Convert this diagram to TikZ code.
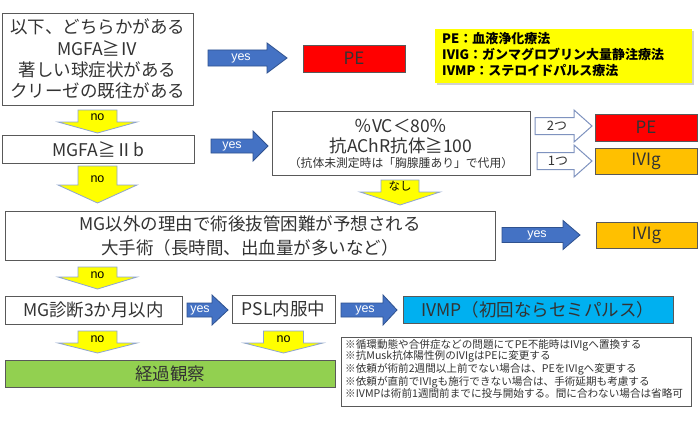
\documentclass[tikz,border=0pt]{standalone}
\usepackage{fontspec}
\setmainfont{Noto Sans CJK JP}
\newfontfamily\latf{Liberation Sans}
\usetikzlibrary{calc}
\definecolor{txt}{HTML}{333333}
\definecolor{boxgray}{HTML}{595959}
\definecolor{pered}{HTML}{FF0000}
\definecolor{ivorange}{HTML}{FFC000}
\definecolor{ivmpcyan}{HTML}{00B0F0}
\definecolor{obsgreen}{HTML}{92D050}
\definecolor{legyellow}{HTML}{FFFF00}
\definecolor{arrblue}{HTML}{4472C4}
\definecolor{arrblueedge}{HTML}{2F528F}
\definecolor{noedge}{HTML}{8FA5D0}
\definecolor{hollowedge}{HTML}{7F93BF}
\newcommand\fs[2]{\fontsize{#1}{#2}\selectfont}
% right-pointing block arrow
\newcommand\blockR[9]{%
  \draw[#1] (#2,#4-#5) -- ({#3-#7},#4-#5) -- ({#3-#7},#4-#6) -- (#3,#4) -- ({#3-#7},#4+#6) -- ({#3-#7},#4+#5) -- (#2,#4+#5) -- cycle;
  \node[#1lab] at (#8,#4) {#9};}
% down-pointing block arrow
\newcommand\blockD[9]{%
  \draw[#1] (#2-#5,#3) -- (#2-#5,{#4-#7}) -- (#2-#6,{#4-#7}) -- (#2,#4) -- (#2+#6,{#4-#7}) -- (#2+#5,{#4-#7}) -- (#2+#5,#3) -- cycle;
  \node[#1lab] at (#2,#8) {#9};}
\begin{document}
\begin{tikzpicture}[x=1pt,y=-1pt,
  box/.style={draw=boxgray, line width=0.9pt, fill=white, inner sep=0pt, align=center, text=txt},
  cbox/.style={draw=boxgray, line width=0.9pt, inner sep=0pt, align=center, text=txt},
  plain/.style={inner sep=0pt, align=center, text=txt},
  yesarr/.style={fill=arrblue, draw=arrblueedge, line width=0.8pt, line join=miter},
  yesarrlab/.style={text=white, font=\latf\fs{12.5}{14}},
  noarr/.style={fill=legyellow, draw=noedge, line width=0.8pt},
  noarrlab/.style={text=black, font=\latf\fs{12.5}{14}},
  nasiarr/.style={fill=legyellow, draw=noedge, line width=0.8pt},
  nasiarrlab/.style={text=black, font=\fs{11.5}{13}},
  holarr/.style={fill=white, draw=hollowedge, line width=1pt},
  holarrlab/.style={text=txt, font=\fs{13}{15}},
  ]
\useasboundingbox (0,0) rectangle (700,420);
\fill[white] (0,0) rectangle (700,420);

% row 1
\node[box, minimum width=191pt, minimum height=92pt, font=\fs{17.5}{21.3}] (b1) at (97.5,59)
  {以下、どちらかがある\\MGFA≧Ⅳ\\著しい球症状がある\\クリーゼの既往がある};
\blockR{yesarr}{208}{287}{58}{8}{15}{20}{241}{yes}
\node[cbox, fill=pered, minimum width=102pt, minimum height=27pt, font=\fs{17}{20}] (pe1) at (354,58.5) {PE};

% legend
\fill[black!18] (437,31) rectangle (694,85);
\node[fill=legyellow, minimum width=257pt, minimum height=54pt, inner sep=0pt] (legend) at (563.5,56) {};
\node[anchor=west, align=left, inner sep=0pt, font=\bfseries\fs{13}{16}] (legtext) at (442,55)
  {PE：血液浄化療法\\IVIG：ガンマグロブリン大量静注療法\\IVMP：ステロイドパルス療法};

% row 2
\blockD{noarr}{97.5}{110}{133}{19.5}{39.5}{11}{117.5}{no}
\node[box, minimum width=192pt, minimum height=28pt, font=\fs{17.5}{20}] (b2) at (98,149) {MGFA≧Ⅱb};
\blockR{yesarr}{211}{268}{146}{7}{15}{15}{232}{yes}
\node[box, minimum width=258pt, minimum height=64pt] (b3) at (401,143) {};
\node[plain, font=\fs{17.5}{20}] (b3main) at (401,136.5) {％VC＜80％\\抗AChR抗体≧100};
\node[plain, font=\fs{11.8}{13}] (b3note) at (401,163.5) {（抗体未測定時は「胸腺腫あり」で代用）};
\blockR{holarr}{535}{592}{126}{8.5}{16}{18}{557}{2つ}
\blockR{holarr}{537}{592}{161}{8.5}{16}{18}{558}{1つ}
\node[cbox, fill=pered, minimum width=102pt, minimum height=27pt, font=\fs{17}{20}] (pe2) at (646,127.5) {PE};
\node[cbox, fill=ivorange, minimum width=102pt, minimum height=26pt, font=\fs{17}{20}] (iv1) at (646,161) {IVIg};

% row 3
\blockD{noarr}{97.5}{166}{203}{19.5}{39.5}{18}{179}{no}
\blockD{nasiarr}{400}{180}{205}{19}{40}{13}{186}{なし}
\node[box, minimum width=490pt, minimum height=49pt, font=\fs{17.5}{24}] (b4) at (250,235.5)
  {MG以外の理由で術後抜管困難が予想される\\大手術（長時間、出血量が多いなど）};
\blockR{yesarr}{502}{580}{235}{7.5}{14.5}{17}{537}{yes}
\node[cbox, fill=ivorange, minimum width=101pt, minimum height=26pt, font=\fs{17}{20}] (iv2) at (646.5,235) {IVIg};

% row 4
\blockD{noarr}{97.5}{267}{289}{19.5}{39.5}{12}{275}{no}
\node[box, minimum width=177pt, minimum height=28pt, font=\fs{17.5}{20}] (b5) at (93.5,310) {MG診断3か月以内};
\blockR{yesarr}{187}{228}{310}{7}{15}{16}{200}{yes}
\node[box, minimum width=103pt, minimum height=28pt, font=\fs{17.5}{20}] (b6) at (283.5,309) {PSL内服中};
\blockR{yesarr}{341}{397}{310}{7}{15}{14}{365}{yes}
\node[cbox, fill=ivmpcyan, minimum width=270pt, minimum height=27pt, font=\fs{17.5}{20}] (ivmp) at (538,309.5) {IVMP（初回ならセミパルス）};

% row 5
\blockD{noarr}{97.5}{331}{353}{19.5}{39.5}{10}{339}{no}
\blockD{noarr}{283.5}{331}{353}{20}{39.5}{10}{339}{no}
\node[cbox, fill=obsgreen, minimum width=330pt, minimum height=27pt, font=\fs{17.5}{20}] (obs) at (170,373.5) {経過観察};

% notes
\node[box, minimum width=350pt, minimum height=69pt] (notes) at (516,371.5) {};
\node[anchor=west, align=left, inner sep=0pt, text=txt, font=\fs{10.6}{11.6}] (notetext) at (345,369)
  {※循環動態や合併症などの問題にてPE不能時はIVIgへ置換する\\
   ※抗Musk抗体陽性例のIVIgはPEに変更する\\
   ※依頼が術前2週間以上前でない場合は、PEをIVIgへ変更する\\
   ※依頼が直前でIVIgも施行できない場合は、手術延期も考慮する\\
   ※IVMPは術前1週間前までに投与開始する。間に合わない場合は省略可};
\end{tikzpicture}
\end{document}
